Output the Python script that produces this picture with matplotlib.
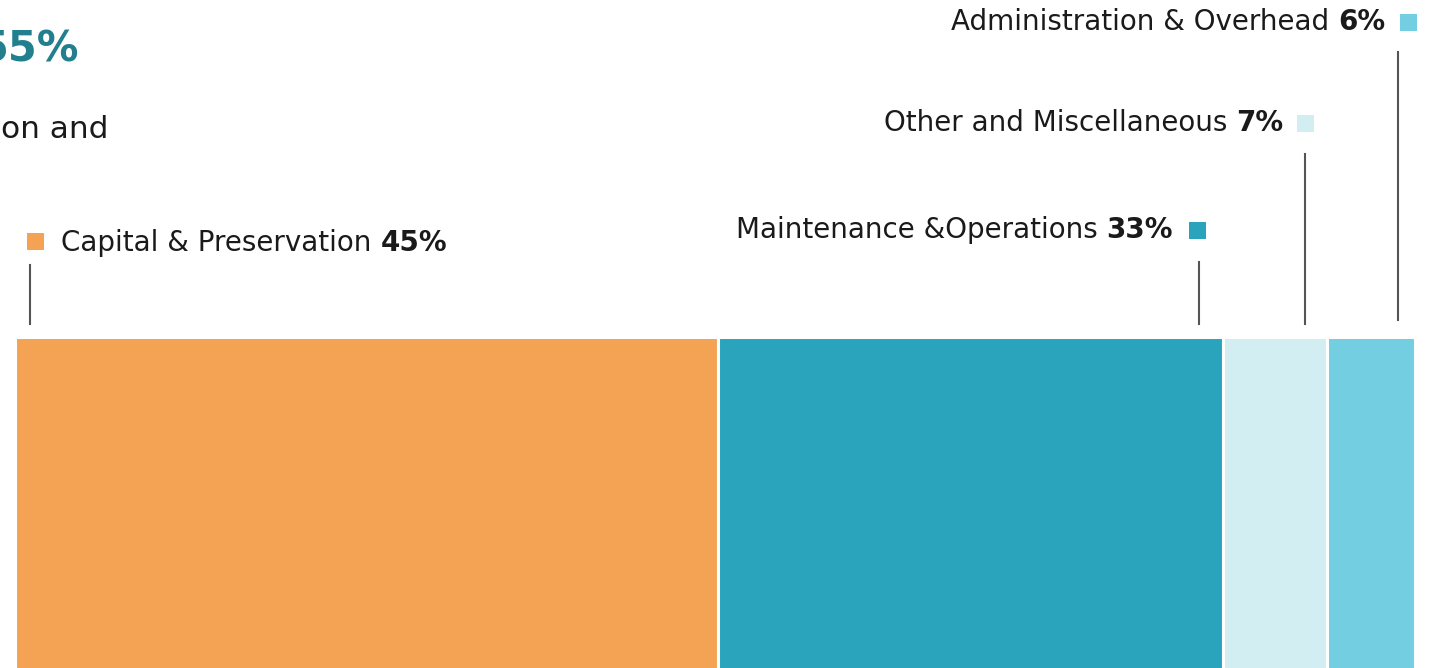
import matplotlib
matplotlib.use("Agg")
import matplotlib.pyplot as plt

categories = ["Capital & Preservation", "Maintenance &Operations",
              "Other and Miscellaneous", "Administration & Overhead"]
pct_labels = ["45%", "33%", "7%", "6%"]
# segment widths as drawn in the picture (share of the bar, %)
bar_shares = [50.2, 36.1, 7.4, 6.3]
colors = ["#F4A354", "#29A4BC", "#D2EEF3", "#72CEE0"]
title_pct = "55%"
body_text = "on and"

W, H = 1432, 668
fig = plt.figure(figsize=(W / 100, H / 100), dpi=100)
FONT = "DejaVu Sans"

# --- bar axes ---
bar_left, bar_right, bar_top = 15, 1415, 337
axb = fig.add_axes([bar_left / W, 0, (bar_right - bar_left) / W, (H - bar_top) / H])
total = sum(bar_shares)
lefts = [sum(bar_shares[:i]) for i in range(len(bar_shares))]
axb.barh([0] * len(bar_shares), bar_shares, left=lefts, height=1.0, color=colors,
         edgecolor="white", linewidth=2.2)
axb.set_xlim(0, total)
axb.set_ylim(-0.4, 0.5)
axb.axis("off")

# --- overlay axes in pixel coords ---
ax = fig.add_axes([0, 0, 1, 1], facecolor="none")
ax.set_xlim(0, W)
ax.set_ylim(H, 0)
ax.axis("off")

fs = 20
text_color = "#1a1a1a"
line_color = "#555555"

# Title fragments (cropped on the left in the original)
ax.text(79, 50, title_pct, ha="right", va="center", fontsize=30,
        fontweight="bold", color="#217F8E", family=FONT)
ax.text(1, 130, body_text, ha="left", va="center", fontsize=22.5,
        color=text_color, family=FONT)

# Capital & Preservation (left-anchored label)
ax.add_patch(plt.Rectangle((27, 233), 17, 17, color=colors[0], lw=0))
t1 = ax.text(61, 243, categories[0] + " ", ha="left", va="center",
             fontsize=fs, color=text_color, family=FONT)
ax.annotate(pct_labels[0], xy=(1, 0), xycoords=t1, ha="left", va="bottom",
            fontsize=fs, fontweight="bold", color=text_color, family=FONT)
ax.plot([30, 30], [265, 324], color=line_color, lw=1.5)

# Right-anchored labels
specs = [
    (1, 1173, 230, 1189, 1199, 262, 324),
    (2, 1283, 123, 1297, 1305, 154, 324),
    (3, 1385, 22, 1400, 1398, 52, 320),
]
for i, tx, ty, sx, lx, ly0, ly1 in specs:
    ax.add_patch(plt.Rectangle((sx, ty - 8.5), 17, 17, color=colors[i], lw=0))
    tb = ax.text(tx, ty, pct_labels[i], ha="right", va="center", fontsize=fs,
                 fontweight="bold", color=text_color, family=FONT)
    ax.annotate(categories[i] + " ", xy=(0, 0), xycoords=tb, ha="right",
                va="bottom", fontsize=fs, color=text_color, family=FONT)
    ax.plot([lx, lx], [ly0, ly1], color=line_color, lw=1.5)

fig.savefig("out.png", dpi=100, facecolor="white")
